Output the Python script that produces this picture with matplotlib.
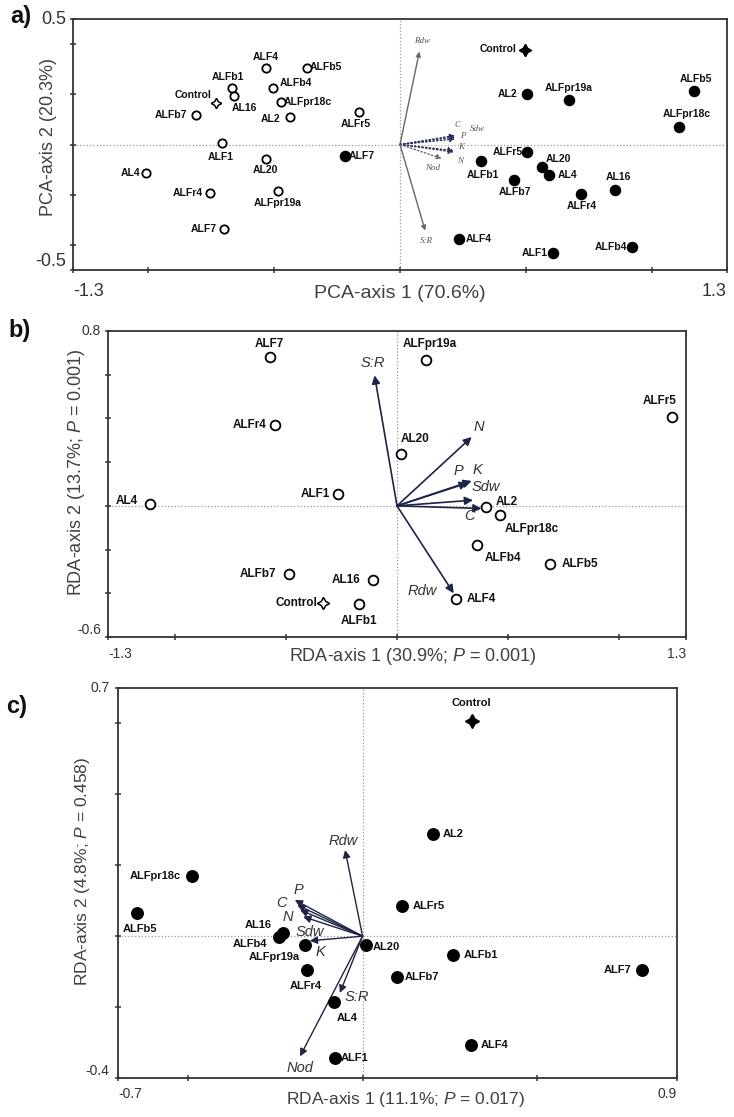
import matplotlib
matplotlib.use('Agg')
import matplotlib.pyplot as plt

plt.rcParams['font.family'] = ['Liberation Sans', 'DejaVu Sans']
plt.rcParams['mathtext.fontset'] = 'custom'
plt.rcParams['mathtext.it'] = 'Liberation Sans:italic'
plt.rcParams['mathtext.rm'] = 'Liberation Sans'

# ---- panel a: PCA ----
a_open_names = ['ALF4', 'ALFb5', 'ALFb1', 'AL16', 'Control', 'ALFb4', 'ALFpr18c', 'ALFb7',
                'AL2', 'ALFr5', 'ALF1', 'AL20', 'AL4', 'ALFr4', 'ALFpr19a', 'ALF7']
a_open_x = [-0.534, -0.371, -0.666, -0.659, -0.731, -0.503, -0.473, -0.810,
            -0.437, -0.164, -0.709, -0.534, -1.011, -0.755, -0.486, -0.698]
a_open_y = [0.304, 0.306, 0.224, 0.193, 0.167, 0.224, 0.168, 0.118,
            0.111, 0.128, 0.007, -0.057, -0.115, -0.192, -0.185, -0.335]

a_fill_names = ['ALF7', 'Control', 'AL2', 'ALFpr19a', 'ALFb5', 'ALFpr18c', 'ALFr5', 'ALFb1',
                'AL20', 'AL4', 'ALFb7', 'AL16', 'ALFr4', 'ALF4', 'ALF1', 'ALFb4']
a_fill_x = [-0.217, 0.495, 0.504, 0.672, 1.170, 1.108, 0.505, 0.321,
            0.566, 0.593, 0.452, 0.856, 0.718, 0.236, 0.609, 0.924]
a_fill_y = [-0.045, 0.376, 0.203, 0.177, 0.213, 0.069, -0.030, -0.065,
            -0.091, -0.123, -0.143, -0.182, -0.197, -0.378, -0.431, -0.407]

a_vec_names = ['Rdw', 'C', 'Sdw', 'P', 'K', 'N', 'Nod', 'S:R']
a_vec_x = [0.077, 0.219, 0.219, 0.219, 0.213, 0.213, 0.166, 0.100]
a_vec_y = [0.370, 0.036, 0.030, 0.022, -0.024, -0.030, -0.056, -0.343]

# ---- panel b: RDA ----
b_names = ['ALF7', 'ALFr4', 'ALF1', 'AL4', 'ALFb7', 'AL16', 'Control', 'ALFb1',
           'ALFpr19a', 'ALFr5', 'AL20', 'AL2', 'ALFpr18c', 'ALFb4', 'ALFb5', 'ALF4']
b_x = [-0.573, -0.550, -0.265, -1.112, -0.486, -0.108, -0.333, -0.171,
       0.132, 1.239, 0.020, 0.402, 0.465, 0.362, 0.690, 0.267]
b_y = [0.681, 0.369, 0.052, 0.010, -0.314, -0.337, -0.444, -0.447,
       0.669, 0.407, 0.239, -0.005, -0.043, -0.177, -0.267, -0.424]

b_vec_names = ['S:R', 'N', 'P', 'K', 'Sdw', 'C', 'Rdw']
b_vec_x = [-0.101, 0.336, 0.319, 0.336, 0.342, 0.380, 0.255]
b_vec_y = [0.597, 0.315, 0.105, 0.114, 0.026, -0.012, -0.400]

# ---- panel c: RDA ----
c_names = ['ALFpr18c', 'ALFb5', 'AL16', 'ALFb4', 'ALFpr19a', 'ALFr4', 'AL20', 'AL4', 'ALF1',
           'Control', 'AL2', 'ALFr5', 'ALFb1', 'ALFb7', 'ALF7', 'ALF4']
c_x = [-0.487, -0.647, -0.227, -0.239, -0.165, -0.158, 0.009, -0.082, -0.079,
       0.313, 0.203, 0.113, 0.258, 0.098, 0.800, 0.310]
c_y = [0.170, 0.064, 0.008, -0.001, -0.025, -0.095, -0.025, -0.185, -0.344,
       0.606, 0.287, 0.085, -0.053, -0.116, -0.095, -0.306]

c_vec_names = ['Rdw', 'P', 'C', 'N', 'Sdw', 'K', 'S:R', 'Nod']
c_vec_x = [-0.050, -0.194, -0.187, -0.179, -0.170, -0.151, -0.065, -0.179]
c_vec_y = [0.243, 0.102, 0.088, 0.074, 0.055, -0.013, -0.160, -0.339]

# label offsets in pixels (dx, dy up)
a_open_off = {'ALF4': (0, 11), 'ALFb5': (19, 1), 'ALFb1': (-5, 11), 'AL16': (10, -12),
              'Control': (-23, 8), 'ALFb4': (22, 5), 'ALFpr18c': (27, 0), 'ALFb7': (-25, 0),
              'AL2': (-20, -2), 'ALFr5': (-3, -12), 'ALF1': (-1, -14), 'AL20': (0, -11),
              'AL4': (-15, 0), 'ALFr4': (-22, 0), 'ALFpr19a': (0, -12), 'ALF7': (-21, 0)}
a_fill_off = {'ALF7': (16, 0), 'Control': (-26, 1), 'AL2': (-19, 0), 'ALFpr19a': (0, 12),
              'ALFb5': (2, 12), 'ALFpr18c': (8, 13), 'ALFr5': (-19, 0), 'ALFb1': (2, -14),
              'AL20': (16, 8), 'AL4': (18, 0), 'ALFb7': (1, -12), 'AL16': (3, 13),
              'ALFr4': (1, -12), 'ALF4': (19, 0), 'ALF1': (-18, 0), 'ALFb4': (-21, 0)}
a_vec_off = {'Rdw': (3, 11), 'C': (2, 10), 'Sdw': (22, 8), 'P': (8, 3), 'K': (8, 4),
             'N': (6, -9), 'Nod': (-9, -9), 'S:R': (1, -10)}
b_off = {'ALF7': (0, 13), 'ALFr4': (-25, 0), 'ALF1': (-23, 0), 'AL4': (-23, 3),
         'ALFb7': (-31, 0), 'AL16': (-27, 0), 'Control': (-27, 0), 'ALFb1': (0, -17),
         'ALFpr19a': (3, 16), 'ALFr5': (-13, 16), 'AL20': (14, 15), 'AL2': (20, 5),
         'ALFpr18c': (31, -14), 'ALFb4': (25, -13), 'ALFb5': (30, 0), 'ALF4': (25, 0)}
b_vec_off = {'S:R': (-2, 12), 'N': (7, 10), 'P': (-9, 12), 'K': (6, 11), 'Sdw': (13, 13),
             'C': (-12, -8), 'Rdw': (-31, 2)}
c_off = {'ALFpr18c': (-37, 0), 'ALFb5': (3, -16), 'AL16': (-25, 8), 'ALFb4': (-29, -7),
         'ALFpr19a': (-31, -12), 'ALFr4': (-2, -16), 'AL20': (21, -2), 'AL4': (13, -16),
         'ALF1': (20, 0), 'Control': (-1, 18), 'AL2': (20, 0), 'ALFr5': (27, 0),
         'ALFb1': (28, 0), 'ALFb7': (25, 0), 'ALF7': (-24, 0), 'ALF4': (24, 0)}
c_vec_off = {'Rdw': (-2, 9), 'P': (4, 10), 'C': (-16, 2), 'N': (-12, -7), 'Sdw': (7, -15),
             'K': (11, -11), 'S:R': (17, -4), 'Nod': (0, -12)}

W, H = 734, 1117
fig = plt.figure(figsize=(W / 100, H / 100), dpi=100)


def make_axes(px_left, px_top, px_right, px_bottom):
    return fig.add_axes([px_left / W, 1 - px_bottom / H,
                         (px_right - px_left) / W, (px_bottom - px_top) / H])


def setup(ax, xlim, ylim, xticks, yticks, fs, xpad, ypad):
    ax.set_xlim(xlim)
    ax.set_ylim(ylim)
    ax.set_xticks([xlim[0]] + xticks + [xlim[1]])
    ax.set_xticklabels([str(xlim[0])] + [''] * len(xticks) + [str(xlim[1])])
    ax.set_yticks([ylim[0]] + yticks + [ylim[1]])
    ax.set_yticklabels([str(ylim[0])] + [''] * len(yticks) + [str(ylim[1])])
    xl = ax.get_xticklabels()
    xl[0].set_ha('left')
    xl[-1].set_ha('right')
    yl = ax.get_yticklabels()
    yl[0].set_va('bottom')
    yl[-1].set_va('center')
    ax.tick_params(direction='inout', length=5, width=1.1, color='#333333',
                   labelsize=fs, labelcolor='#333333')
    ax.tick_params(axis='x', pad=xpad)
    ax.tick_params(axis='y', pad=ypad)
    for s in ax.spines.values():
        s.set_color('#333333')
        s.set_linewidth(1.3)
    ax.axhline(0, ls=':', color='#999999', lw=0.9, zorder=0)
    ax.axvline(0, ls=':', color='#999999', lw=0.9, zorder=0)


def points(ax, names, xs, ys, offs, filled, size, fs):
    for n, x, y in zip(names, xs, ys):
        if n == 'Control':
            ax.plot(x, y, marker=(4, 1, 0), ms=size * 1.25, ls='none',
                    mfc='black' if filled else 'white', mec='black', mew=1.1, zorder=4)
        else:
            ax.plot(x, y, marker='o', ms=size, ls='none',
                    mfc='black' if filled else 'white', mec='black', mew=1.3, zorder=4)
        dx, dy = offs[n]
        ax.annotate(n, (x, y), xytext=(dx, dy), textcoords='offset pixels',
                    ha='center', va='center', fontsize=fs, fontweight='bold', color='#111111')


def vectors(ax, names, xs, ys, offs, color, lw, ms, fs, family, tcolor, styles=None):
    for n, x, y in zip(names, xs, ys):
        ls = styles[n] if styles else '-'
        c = color[n] if isinstance(color, dict) else color
        ax.annotate('', xy=(x, y), xytext=(0, 0),
                    arrowprops=dict(arrowstyle='-|>', color=c, lw=lw, ls=ls,
                                    mutation_scale=ms, shrinkA=0, shrinkB=0), zorder=3)
        dx, dy = offs[n]
        ax.annotate(n, (x, y), xytext=(dx, dy), textcoords='offset pixels',
                    ha='center', va='center', fontsize=fs, style='italic',
                    family=family, color=tcolor)


# panel a
axa = make_axes(73, 19, 727, 270)
setup(axa, (-1.3, 1.3), (-0.5, 0.5), [-1.0, -0.5, 0.0, 0.5, 1.0],
      [-0.4, -0.2, 0.0, 0.2, 0.4], 13, 7, 2.5)
points(axa, a_open_names, a_open_x, a_open_y, a_open_off, False, 6, 7.5)
points(axa, a_fill_names, a_fill_x, a_fill_y, a_fill_off, True, 7, 7.5)
a_styles = {'Rdw': '-', 'S:R': '-', 'C': ':', 'Sdw': ':', 'P': ':', 'K': ':', 'N': ':', 'Nod': ':'}
a_cols = {'Rdw': '#666666', 'S:R': '#666666', 'C': '#2a2f60', 'Sdw': '#2a2f60', 'P': '#2a2f60',
          'K': '#2a2f60', 'N': '#2a2f60', 'Nod': '#666666'}
vectors(axa, a_vec_names, a_vec_x, a_vec_y, a_vec_off, a_cols, 1.0, 7, 6.5,
        ['Liberation Serif', 'DejaVu Serif'], '#555555', a_styles)
axa.text(0.5, -0.092, 'PCA-axis 1 (70.6%)', transform=axa.transAxes, ha='center', va='center',
         fontsize=14, color='#404040')
axa.text(-0.038, 0.53, 'PCA-axis 2 (20.3%)', transform=axa.transAxes, ha='center', va='center',
         rotation=90, fontsize=13, color='#404040')

# panel b
axb = make_axes(108, 331, 686, 637)
setup(axb, (-1.3, 1.3), (-0.6, 0.8), [-1.0, -0.5, 0.0, 0.5, 1.0],
      [-0.4, -0.2, 0.0, 0.2, 0.4, 0.6], 10, 4.5, 2.5)
vectors(axb, b_vec_names, b_vec_x, b_vec_y, b_vec_off, '#1f2345', 1.2, 12, 10.5,
        ['Liberation Sans', 'DejaVu Sans'], '#333333')
points(axb, b_names, b_x, b_y, b_off, False, 7, 8.5)
axb.text(0.527, -0.063, 'RDA-axis 1 (30.9%; $P$ = 0.001)', transform=axb.transAxes,
         ha='center', va='center', fontsize=13, color='#404040')
axb.text(-0.054, 0.54, 'RDA-axis 2 (13.7%; $P$ = 0.001)', transform=axb.transAxes,
         ha='center', va='center', rotation=90, fontsize=13, color='#404040')

# panel c
axc = make_axes(118, 688, 677, 1078)
setup(axc, (-0.7, 0.9), (-0.4, 0.7), [-0.5, 0.0, 0.5],
      [-0.2, 0.0, 0.2, 0.4, 0.6], 10, 4, 3.5)
vectors(axc, c_vec_names, c_vec_x, c_vec_y, c_vec_off, '#1f2345', 1.0, 11, 10.5,
        ['Liberation Sans', 'DejaVu Sans'], '#333333')
points(axc, c_names, c_x, c_y, c_off, True, 8, 8)
axc.text(0.514, -0.056, 'RDA-axis 1 (11.1%; $P$ = 0.017)', transform=axc.transAxes,
         ha='center', va='center', fontsize=12.5, color='#404040')
axc.text(-0.064, 0.531, 'RDA-axis 2 (4.8%; $P$ = 0.458)', transform=axc.transAxes,
         ha='center', va='center', rotation=90, fontsize=12.5, color='#404040')

for lab, px, py in [('a)', 21, 16), ('b)', 20, 331), ('c)', 17, 706)]:
    fig.text(px / W, 1 - py / H, lab, ha='center', va='center', fontsize=17,
             fontweight='bold', color='#111111')

fig.savefig('out.png', dpi=100)
